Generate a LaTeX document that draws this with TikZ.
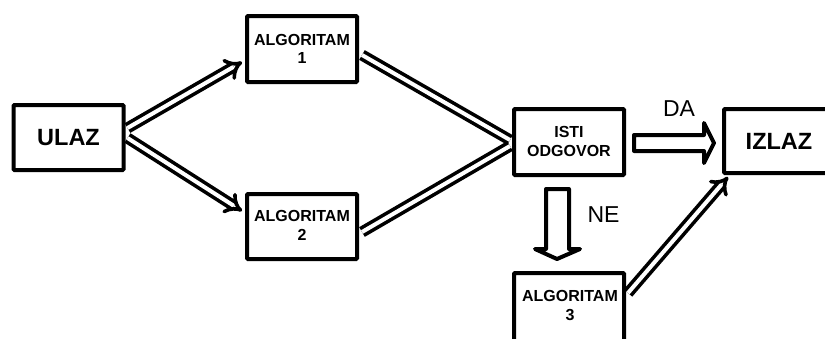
\documentclass[tikz,border=0pt]{standalone}
\usepackage{fontspec}
\setmainfont{Liberation Sans}
\usetikzlibrary{arrows.meta,calc}
\begin{document}
\begin{tikzpicture}[x=1pt,y=-1pt,
  box/.style={draw,line width=4pt,rounded corners=1pt,inner sep=0pt,outer sep=0pt,minimum width=110pt},
  lbl/.style={anchor=base,inner sep=0pt,font=\bfseries\fontsize{16}{18}\selectfont},
  big/.style={anchor=base,inner sep=0pt,font=\bfseries\fontsize{23.5}{26}\selectfont},
  ans/.style={anchor=base,inner sep=0pt,font=\fontsize{23}{26}\selectfont},
  dbl/.style={double,double distance=4pt,line width=3.6pt,-{Implies}},
  pipe/.style={double,double distance=4pt,line width=3.6pt},
  blk/.style={draw,line width=4pt,line join=round},
]
\useasboundingbox (0,0) rectangle (825,338);
\fill[white] (0,0) rectangle (825,338);

% boxes
\node[box,minimum height=65pt] (ulaz) at (68.5,137.5) {};
\node[box,minimum height=66pt] (alg1) at (302,49) {};
\node[box,minimum height=65pt] (alg2) at (302,226.5) {};
\node[box,minimum height=66pt] (isti) at (569,142) {};
\node[box,minimum width=106pt,minimum height=64pt] (izlaz) at (777,141) {};
\node[box,minimum height=77pt] (alg3) at (569,311.5) {};

% labels
\node[big] (ulazt) at (68.5,145) {ULAZ};
\node[lbl] (alg1a) at (302,45.7) {ALGORITAM};
\node[lbl] (alg1b) at (302,63.3) {1};
\node[lbl] (alg2a) at (302,221.7) {ALGORITAM};
\node[lbl] (alg2b) at (302,240) {2};
\node[lbl] (istia) at (569,137) {ISTI};
\node[lbl] (istib) at (569,156) {ODGOVOR};
\node[big] (izlazt) at (779,149) {IZLAZ};
\node[lbl] (alg3a) at (570,301.7) {ALGORITAM};
\node[lbl] (alg3b) at (570,320.7) {3};
\node[ans] (da) at (679,116) {DA};
\node[ans] (ne) at (603.5,222) {NE};

% double-line connectors
\draw[dbl] ($(ulaz.east)+(4,-9.5)$) -- ($(alg1.west)+(-5,13)$);
\draw[dbl] ($(ulaz.east)+(4,0.5)$) -- ($(alg2.west)+(-5,-15.5)$);
\draw[pipe] ($(alg1.east)+(5,6)$) -- ($(isti.west)+(-4,-2)$);
\draw[pipe] ($(alg2.east)+(5,5.5)$) -- ($(isti.west)+(-4,4)$);
\draw[dbl] ($(alg3.north east)+(4,20)$) -- ($(izlaz.south west)+(4,4)$);

% block arrows
\draw[blk] (634,135) -- (704,135) -- (704,123) -- (714,143) -- (704,163) -- (704,151) -- (634,151) -- cycle;
\draw[blk] (546,189) -- (569,189) -- (569,249) -- (580,249) -- (557,259) -- (535,249) -- (546,249) -- cycle;
\end{tikzpicture}
\end{document}
